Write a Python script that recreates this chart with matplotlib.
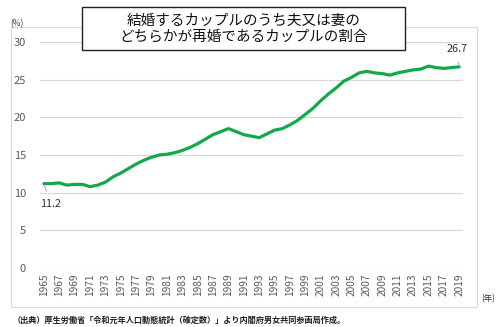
import matplotlib
matplotlib.use('Agg')
import matplotlib.pyplot as plt
from matplotlib.patches import Rectangle

plt.rcParams['font.family'] = ['Noto Sans CJK JP', 'DejaVu Sans']

# share of marrying couples where husband or wife is remarrying (%)
years = list(range(1965, 2020))
share = [11.2, 11.2, 11.3, 11.0, 11.1, 11.1, 10.8, 11.0, 11.4, 12.1,
         12.6, 13.2, 13.8, 14.3, 14.7, 15.0, 15.1, 15.3, 15.6, 16.0,
         16.5, 17.1, 17.7, 18.1, 18.5, 18.1, 17.7, 17.5, 17.3, 17.8,
         18.3, 18.5, 19.0, 19.6, 20.4, 21.2, 22.2, 23.1, 23.9, 24.8,
         25.3, 25.9, 26.1, 25.9, 25.8, 25.6, 25.9, 26.1, 26.3, 26.4,
         26.8, 26.6, 26.5, 26.6, 26.7]
tick_years = years[::2]

title = "結婚するカップルのうち夫又は妻の\nどちらかが再婚であるカップルの割合"
source = "（出典）厚生労働省「令和元年人口動態統計（確定数）」より内閣府男女共同参画局作成。"

fig = plt.figure(figsize=(5, 3.27), dpi=100)
ax = fig.add_axes([0.08, 0.1804, 0.846, 0.6912])

# outer chart border
fig.patches.append(Rectangle((0.022, 0.061), 0.932, 0.856, transform=fig.transFigure,
                             fill=False, edgecolor='#d9d9d9', linewidth=0.8))

ax.plot(years, share, color='#13a84a', linewidth=2.3, solid_capstyle='round')

ax.set_xlim(1964.5, 2019.5)
ax.set_ylim(0, 30)
ax.set_yticks(range(0, 31, 5))
ax.set_xticks(tick_years)
ax.set_xticklabels([str(y) for y in tick_years], rotation=90)
ax.grid(axis='y', color='#d9d9d9', linewidth=0.9)
ax.set_axisbelow(True)
for s in ax.spines.values():
    s.set_visible(False)
ax.tick_params(length=0, colors='#595959', labelsize=7.3)
ax.tick_params(axis='y', pad=10, labelsize=8)
ax.tick_params(axis='x', pad=4)

ax.annotate(f"{share[0]:.1f}", xy=(years[0], share[0]), xytext=(5, -15),
            textcoords='offset points', ha='center', va='center', fontsize=7.8,
            color='#333333',
            arrowprops=dict(arrowstyle='-', color='#999999', linewidth=0.6, shrinkA=4, shrinkB=1))
ax.annotate(f"{share[-1]:.1f}", xy=(years[-1], share[-1]), xytext=(-1.5, 13),
            textcoords='offset points', ha='center', va='center', fontsize=7.8,
            color='#333333',
            arrowprops=dict(arrowstyle='-', color='#999999', linewidth=0.6, shrinkA=4, shrinkB=1))

# title box
fig.patches.append(Rectangle((0.164, 0.847), 0.646, 0.1315, transform=fig.transFigure,
                             facecolor='white', edgecolor='#222222', linewidth=1.0, zorder=5))
fig.text(0.487, 0.912, title, ha='center', va='center', fontsize=10.5,
         linespacing=1.12, color='#111111', zorder=6)

fig.text(0.02, 0.928, "(%)", fontsize=6, color='#333333', va='center')
fig.text(0.962, 0.086, "(年)", fontsize=6, color='#333333', va='center')
fig.text(0.026, 0.021, source, fontsize=5.9, color='#222222', va='center', fontweight='bold')

fig.savefig('out.png', dpi=100)
